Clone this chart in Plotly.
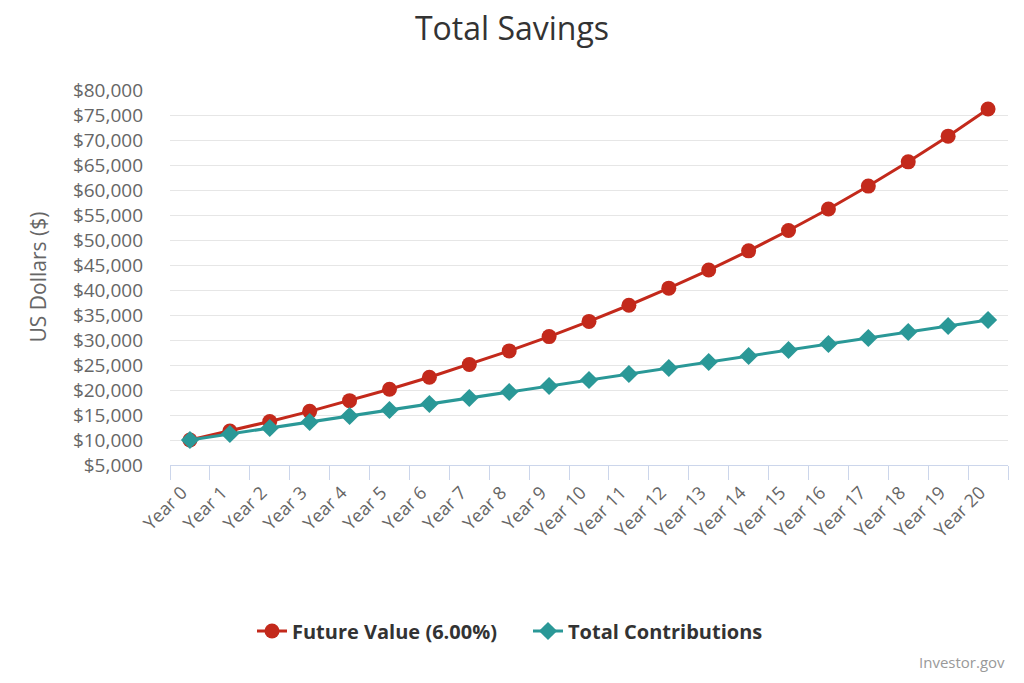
import plotly.graph_objects as go

years = [f"Year {i}" for i in range(21)]
future_value = [10000, 11800, 13708, 15730, 17874, 20147, 22556, 25109, 27815, 30684,
                33725, 36949, 40366, 43988, 47827, 51897, 56211, 60783, 65630, 70768, 76214]
contributions = [10000, 11200, 12400, 13600, 14800, 16000, 17200, 18400, 19600, 20800,
                 22000, 23200, 24400, 25600, 26800, 28000, 29200, 30400, 31600, 32800, 34000]
y_ticks = list(range(5000, 80001, 5000))
y_tick_labels = [f"${v:,}" for v in y_ticks]

FONT = "Open Sans"
RED = "#c3291b"
TEAL = "#2a9897"

W, H = 1024, 683
L, R, T, B = 170, 16, 90, 218
PH = H - T - B
PW = W - L - R

fig = go.Figure()
fig.add_trace(go.Scatter(
    x=years, y=future_value, name="Future Value (6.00%)",
    mode="lines+markers",
    line=dict(color=RED, width=3),
    marker=dict(symbol="circle", size=15, color=RED),
))
fig.add_trace(go.Scatter(
    x=years, y=contributions, name="Total Contributions",
    mode="lines+markers",
    line=dict(color=TEAL, width=3),
    marker=dict(symbol="diamond", size=14, color=TEAL),
))

fig.update_layout(
    width=W, height=H,
    paper_bgcolor="white", plot_bgcolor="white",
    margin=dict(l=L, r=R, t=T, b=B, autoexpand=False),
    font=dict(family=FONT, color="#666666"),
    title=dict(text="Total Savings", x=0.5, xanchor="center", xref="container",
               y=1 - 29 / H, yanchor="middle", yref="container",
               font=dict(family=FONT, size=32, color="#333333")),
    showlegend=True,
    legend=dict(orientation="h", xref="container", x=528 / W, xanchor="center",
                y=-(631 - (T + PH)) / PH, yanchor="middle",
                font=dict(family=FONT, size=20, color="#333333", weight="bold"),
                itemwidth=30, entrywidth=231, traceorder="normal"),
    xaxis=dict(
        type="category", range=[-0.5, len(years) - 0.5],
        tickson="boundaries", ticks="outside", ticklen=14,
        tickcolor="#ccd6eb", showline=True, linecolor="#ccd6eb", linewidth=1,
        showgrid=False, tickangle=-45, automargin=False,
        ticklabelstandoff=9, ticklabelshift=-8,
        tickfont=dict(family=FONT, size=18, color="#666666"),
    ),
    yaxis=dict(
        range=[5000, 80000], tickvals=y_ticks, ticktext=y_tick_labels,
        showgrid=True, gridcolor="#e6e6e6", zeroline=False, showline=False,
        tickfont=dict(family=FONT, size=19, color="#666666"),
        ticklabelstandoff=26, automargin=False,
    ),
)

fig.add_annotation(text="US Dollars ($)", xref="paper", yref="paper",
                   x=-(L - 37) / PW, xanchor="center", y=0.5, yanchor="middle",
                   textangle=-90, showarrow=False,
                   font=dict(family=FONT, size=21, color="#666666"))

fig.add_annotation(text="Investor.gov", xref="paper", yref="paper",
                   x=(1007 - L) / PW, xanchor="right",
                   y=-(662 - (T + PH)) / PH, yanchor="middle",
                   showarrow=False, font=dict(family=FONT, size=15, color="#999999"))

fig.write_html("out.html", config={"displayModeBar": False},
               post_script="document.body.style.margin='0';")
